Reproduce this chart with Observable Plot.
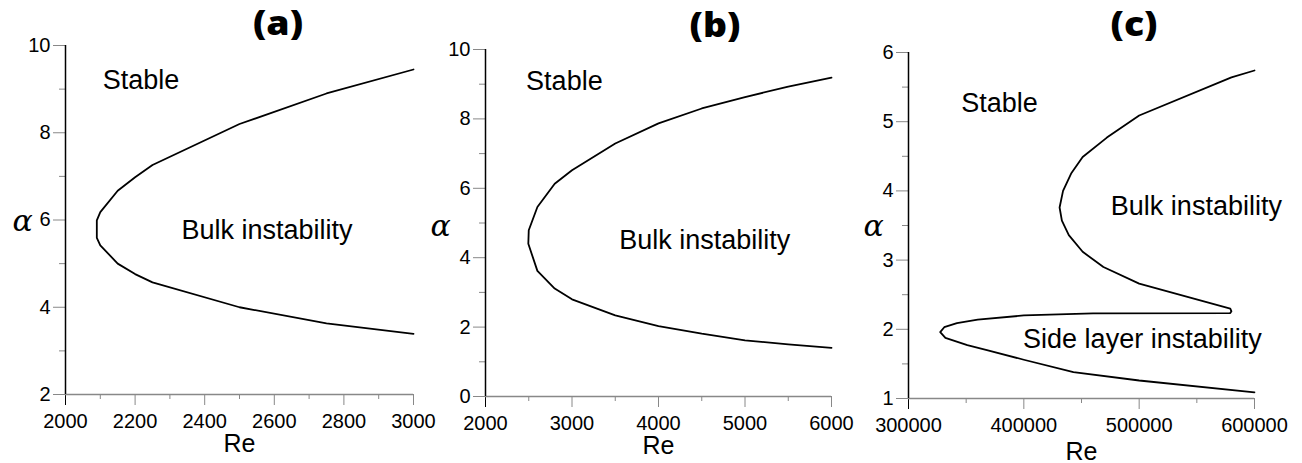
<!DOCTYPE html>
<html><head><meta charset="utf-8">
<script src="https://cdn.jsdelivr.net/npm/d3@7"></script>
<script src="https://cdn.jsdelivr.net/npm/@observablehq/plot@0.6"></script>
<style>
body{margin:0;background:#fff;}
#wrap{position:relative;width:1302px;height:463px;overflow:hidden;background:#fff;}
.panel{position:absolute;top:0;}
.title{position:absolute;font-family:"Open Sans",sans-serif;font-weight:800;font-size:34px;line-height:34px;transform:translate(-50%,-50%) scaleX(1.1);white-space:nowrap;color:#000;}
</style></head><body><div id="wrap"></div>
<script>
// ---- Panel (a) ----
const reA    = [3000, 2750, 2500, 2250, 2200, 2150, 2100, 2090, 2090, 2100, 2150, 2200, 2250, 2500, 2750, 3000];
const alphaA = [9.45, 8.90, 8.20, 7.26, 6.98, 6.67, 6.18, 5.99, 5.59, 5.42, 5.00, 4.76, 4.57, 4.00, 3.63, 3.39];
const xTicksA = [2000, 2200, 2400, 2600, 2800, 3000];
const xMinorA = [2100, 2300, 2500, 2700, 2900];
const yTicksA = [2, 4, 6, 8, 10];
const yMinorA = [3, 5, 7, 9];
const notesTextA  = ["Stable", "Bulk instability"];
const notesReA    = [2217, 2579];
const notesAlphaA = [9.2, 5.76];

// ---- Panel (b) ----
const reB    = [6000, 5500, 5000, 4500, 4000, 3500, 3000, 2800, 2600, 2500, 2495, 2600, 2800, 3000, 3500, 4000, 4500, 5000, 5500, 6000];
const alphaB = [9.19, 8.93, 8.63, 8.30, 7.87, 7.29, 6.52, 6.13, 5.46, 4.79, 4.40, 3.62, 3.11, 2.80, 2.34, 2.03, 1.81, 1.62, 1.50, 1.40];
const xTicksB = [2000, 3000, 4000, 5000, 6000];
const xMinorB = [2500, 3500, 4500, 5500];
const yTicksB = [0, 2, 4, 6, 8, 10];
const yMinorB = [1, 3, 5, 7, 9];
const notesTextB  = ["Stable", "Bulk instability"];
const notesReB    = [2912, 4535];
const notesAlphaB = [9.09, 4.5];

// ---- Panel (c) ----
const reC    = [600000, 580000, 500000, 472000, 451000, 441000, 434000, 431000, 433000, 439000, 451000, 469000, 500000, 579000, 580000, 579000, 460000, 400000, 360000, 342000, 331000, 327500, 332000, 351000, 368000, 400000, 443000, 500000, 600000];
const alphaC = [5.74, 5.64, 5.09, 4.77, 4.49, 4.25, 4.00, 3.76, 3.57, 3.36, 3.12, 2.90, 2.66, 2.30, 2.26, 2.235, 2.23, 2.20, 2.14, 2.09, 2.03, 1.96, 1.875, 1.77, 1.70, 1.56, 1.38, 1.26, 1.09];
const xTicksC = [300000, 400000, 500000, 600000];
const xMinorC = [350000, 450000, 550000];
const yTicksC = [1, 2, 3, 4, 5, 6];
const yMinorC = [1.5, 2.5, 3.5, 4.5, 5.5];
const notesTextC  = ["Stable", "Bulk instability", "Side layer instability"];
const notesReC    = [379000, 549600, 502800];
const notesAlphaC = [5.27, 3.77, 1.855];

const titles = ["(a)", "(b)", "(c)"];
const xLabel = "Re";
const yLabel = "α";

const wrap = document.getElementById("wrap");

function panel(cfg) {
  const pts = cfg.re.map((r, i) => ({re: r, alpha: cfg.alpha[i]}));
  const notes = cfg.notesText.map((t, i) => ({text: t, re: cfg.notesRe[i], alpha: cfg.notesAlpha[i]}));
  const xd = [cfg.xTicks[0], cfg.xTicks[cfg.xTicks.length - 1]];
  const yd = [cfg.yTicks[0], cfg.yTicks[cfg.yTicks.length - 1]];
  const font = "'Liberation Sans', Arial, sans-serif";
  const chart = Plot.plot({
    width: cfg.width, height: 463,
    marginLeft: cfg.m[0], marginRight: cfg.m[1], marginTop: cfg.m[2], marginBottom: cfg.m[3],
    style: {fontFamily: font, fontSize: "20px", background: "transparent", color: "black", overflow: "visible"},
    x: {domain: xd, label: null},
    y: {domain: yd, label: null},
    marks: [
      Plot.axisY(cfg.yMinor, {tickSize: 6, stroke: "#888", fill: "none", label: null}),
      Plot.axisY(cfg.yTicks, {tickSize: 12, tickPadding: 3, stroke: "#888", fill: "black", label: null, tickFormat: "d", fontSize: 20, fontFamily: font}),
      Plot.axisX(cfg.xMinor, {tickSize: 5, stroke: "#888", fill: "none", label: null}),
      Plot.axisX(cfg.xTicks, {tickSize: 11, tickPadding: 8, stroke: "#888", fill: "black", label: null, tickFormat: "d", fontSize: 20, fontFamily: font}),
      Plot.axisX([xd[0]], {tickSize: 11, stroke: "black", fill: "none", label: null}),
      Plot.ruleY([yd[0]], {x1: xd[0], x2: xd[1], stroke: "#888", strokeWidth: 1.5}),
      Plot.ruleX([xd[0]], {y1: yd[0], y2: yd[1], stroke: "black", strokeWidth: 1.5}),
      Plot.line(pts, {x: "re", y: "alpha", stroke: "black", strokeWidth: 1.8}),
      Plot.text(notes, {x: "re", y: "alpha", text: "text", fontSize: 27, fill: "black"}),
      Plot.text([xLabel], {frameAnchor: "bottom", textAnchor: "middle", lineAnchor: "middle", dy: cfg.reDy, fontSize: 25, fill: "black"}),
      Plot.text([yLabel], {frameAnchor: "left", textAnchor: "middle", lineAnchor: "middle", dx: cfg.aDx, dy: cfg.aDy, fontSize: 30, fontFamily: "'DejaVu Serif', serif", fontStyle: "italic", fill: "black"})
    ]
  });
  chart.classList.add("panel");
  chart.style.left = cfg.left + "px";
  wrap.appendChild(chart);
  const t = document.createElement("div");
  t.className = "title";
  t.textContent = cfg.title;
  t.style.left = cfg.tx + "px";
  t.style.top = cfg.ty + "px";
  wrap.appendChild(t);
}

panel({left: 0, width: 430, m: [65, 17, 45, 69], re: reA, alpha: alphaA,
  xTicks: xTicksA, xMinor: xMinorA, yTicks: yTicksA, yMinor: yMinorA,
  notesText: notesTextA, notesRe: notesReA, notesAlpha: notesAlphaA,
  reDy: 49, aDx: -43, aDy: 1, title: titles[0], tx: 278, ty: 22});
panel({left: 430, width: 430, m: [55, 29, 49, 67], re: reB, alpha: alphaB,
  xTicks: xTicksB, xMinor: xMinorB, yTicks: yTicksB, yMinor: yMinorB,
  notesText: notesTextB, notesRe: notesReB, notesAlpha: notesAlphaB,
  reDy: 49, aDx: -45, aDy: 3, title: titles[1], tx: 715, ty: 24});
panel({left: 860, width: 442, m: [48, 48, 52, 65], re: reC, alpha: alphaC,
  xTicks: xTicksC, xMinor: xMinorC, yTicks: yTicksC, yMinor: yMinorC,
  notesText: notesTextC, notesRe: notesReC, notesAlpha: notesAlphaC,
  reDy: 53, aDx: -35, aDy: 1, title: titles[2], tx: 1134, ty: 23});
</script></body></html>
